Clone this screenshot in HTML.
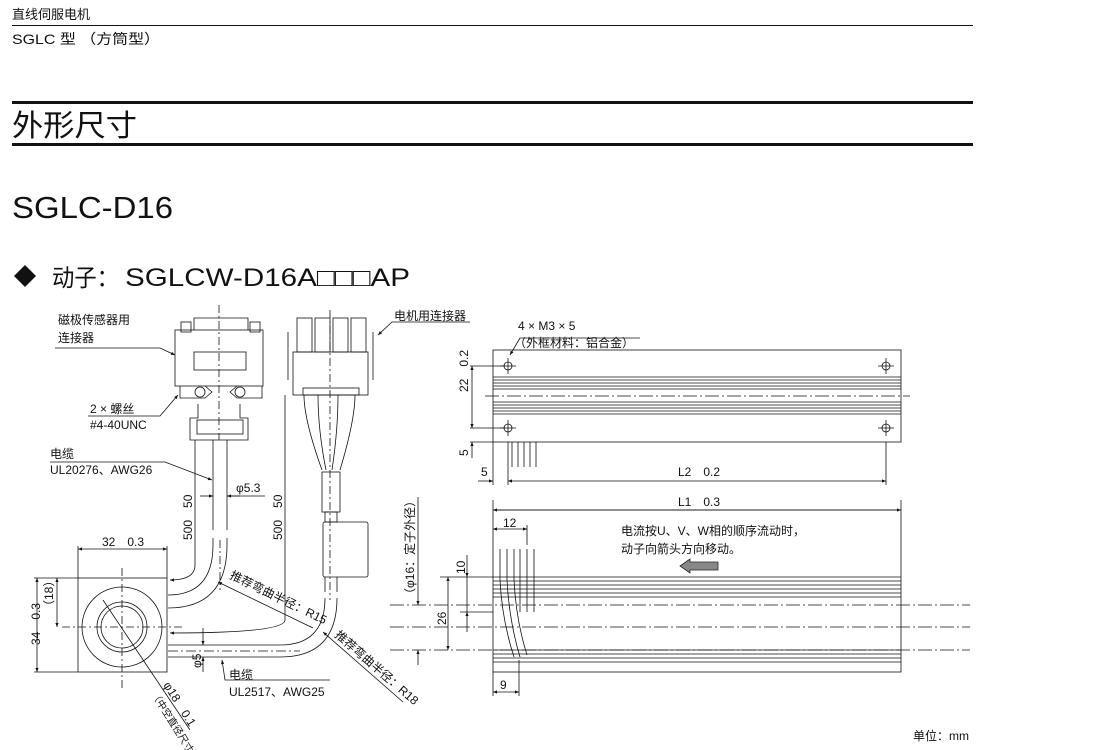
<!DOCTYPE html><html><head><meta charset="utf-8"><style>
body{margin:0;background:#fff;width:1094px;height:750px;overflow:hidden}
svg{display:block}
text{font-family:"Liberation Sans","Noto Sans CJK SC",sans-serif;fill:#111}
.t{font-size:12px}
</style></head><body>
<svg width="1094" height="750" viewBox="0 0 1094 750" xmlns="http://www.w3.org/2000/svg">
<defs><marker id="a" viewBox="0 0 10 10" refX="10" refY="5" markerWidth="7" markerHeight="5" orient="auto-start-reverse"><path d="M0,1 L10,5 L0,9z" fill="#111"/></marker></defs>
<text x="12" y="19" style="font-size:13px">直线伺服电机</text>
<line x1="12" y1="25.5" x2="973" y2="25.5" stroke="#111"/>
<text x="12" y="44" style="font-size:14px" textLength="148" lengthAdjust="spacingAndGlyphs">SGLC 型 （方筒型）</text>
<rect x="12" y="101" width="961" height="3" fill="#111"/>
<text x="12" y="136" style="font-size:30px" textLength="125" lengthAdjust="spacingAndGlyphs">外形尺寸</text>
<rect x="12" y="143" width="961" height="3" fill="#111"/>
<text x="12" y="218" style="font-size:31px" textLength="161" lengthAdjust="spacingAndGlyphs">SGLC-D16</text>
<path d="M14,276 L25,265 36,276 25,287z" fill="#111"/>
<text x="52" y="286" style="font-size:24px" textLength="67" lengthAdjust="spacingAndGlyphs">动子：</text>
<text x="125" y="286" style="font-size:25px" textLength="285" lengthAdjust="spacingAndGlyphs">SGLCW-D16A□□□AP</text>

<g stroke="#111" fill="none" stroke-width="0.8">
<path d="M194,330 V318 H248 V330"/>
<rect x="175" y="330" width="88" height="56"/>
<rect x="194" y="352" width="52" height="18"/>
<rect x="181" y="322" width="10" height="10"/><rect x="250" y="322" width="10" height="10"/>
<path d="M180,386 V398 H205 L212,392 205,386 M262,386 V398 H237 L230,392 237,386"/>
<circle cx="200" cy="392" r="5"/><circle cx="240" cy="392" r="5"/>
<path d="M198,404 V418 H190 V440 H248 V418 H240 V404"/>
<rect x="197" y="420" width="46" height="14"/>
<line x1="219" y1="305" x2="219" y2="440" stroke-dasharray="8,3,2,3"/>
<path d="M213,440 V530 M227,440 V530 M213,538 V545 Q213,595 168,595 M227,538 V545 Q227,608 168,608"/>
<line x1="220" y1="540" x2="220" y2="590" stroke-dasharray="8,3,2,3"/>
<rect x="297" y="318" width="15" height="34"/><rect x="315" y="318" width="15" height="34"/><rect x="333" y="318" width="15" height="34"/><rect x="351" y="318" width="15" height="34"/>
<rect x="293" y="352" width="75" height="43"/><rect x="303" y="388" width="56" height="7"/>
<path d="M288,332 V380 M373,332 V380"/>
<path d="M304,395 Q304,420 322,470 M318,395 Q318,430 326,470 M338,395 Q338,430 332,470 M355,395 Q355,420 340,470"/>
<rect x="322" y="472" width="18" height="40"/>
<rect x="325" y="512" width="12" height="10"/>
<rect x="323" y="522" width="45" height="55" rx="2"/>
<path d="M325,577 V592 M337,577 V592 M325,598 Q325,645 280,645 H168 M337,598 Q337,657 280,657 H168"/>
<line x1="330" y1="310" x2="330" y2="600" stroke-dasharray="8,3,2,3"/>
<line x1="168" y1="651" x2="300" y2="651" stroke-dasharray="10,3,2,3"/>
<rect x="78" y="578" width="89" height="94"/>
<circle cx="122" cy="627" r="40"/><circle cx="122" cy="627" r="25"/><circle cx="122" cy="627" r="21"/>
<line x1="122" y1="568" x2="122" y2="690" stroke-dasharray="8,3,2,3"/>
<line x1="62" y1="627" x2="182" y2="627" stroke-dasharray="8,3,2,3"/>
<line x1="103" y1="600" x2="190" y2="730"/>
<line x1="34" y1="578" x2="78" y2="578"/><line x1="34" y1="672" x2="78" y2="672"/>
<line x1="37" y1="578" x2="37" y2="672" marker-start="url(#a)" marker-end="url(#a)"/>
<line x1="57" y1="578" x2="57" y2="627" marker-start="url(#a)" marker-end="url(#a)"/>
<line x1="78" y1="546" x2="78" y2="578"/><line x1="167" y1="546" x2="167" y2="578"/>
<line x1="78" y1="549" x2="167" y2="549" marker-start="url(#a)" marker-end="url(#a)"/>
<path d="M195,440 V565 Q195,580 170,580" marker-end="url(#a)"/>
<path d="M285,395 V620 Q285,633 170,633" marker-end="url(#a)"/>
<line x1="203" y1="628" x2="203" y2="645" marker-end="url(#a)"/><line x1="203" y1="672" x2="203" y2="657" marker-end="url(#a)"/>
<line x1="200" y1="496" x2="213" y2="496" marker-end="url(#a)"/><line x1="240" y1="496" x2="227" y2="496" marker-end="url(#a)"/><line x1="227" y1="496" x2="265" y2="496"/>
<path d="M55,348 H160 L175,355" marker-end="url(#a)"/>
<path d="M88,416 H160 L178,395" marker-end="url(#a)"/>
<path d="M50,462 H165 L212,480" marker-end="url(#a)"/>
<path d="M470,322 H392 L378,335" marker-end="url(#a)"/>
<line x1="313" y1="628" x2="218" y2="582" marker-end="url(#a)"/>
<line x1="403" y1="702" x2="323" y2="632" marker-end="url(#a)"/>
<path d="M330,680 H225 L222,660" marker-end="url(#a)"/>
<rect x="493" y="350" width="408" height="92"/>
<path d="M493,377 H901 M493,380 H901 M493,383 H901 M493,386 H901 M493,389 H901 M493,402 H901 M493,405 H901 M493,408 H901 M493,411 H901 M493,414 H901"/>
<line x1="485" y1="396" x2="910" y2="396" stroke-dasharray="14,3,2,3"/>
<g><circle cx="508" cy="366" r="4"/><circle cx="886" cy="366" r="4"/><circle cx="508" cy="428" r="4"/><circle cx="886" cy="428" r="4"/>
<path d="M500,366H516M508,358V374M878,366H894M886,358V374M500,428H516M508,420V436M878,428H894M886,420V436"/></g>
<path d="M512,442 V467 M518,442 V467 M524,442 V467 M530,442 V467 M536,442 V467"/>
<line x1="470" y1="366" x2="505" y2="366"/><line x1="470" y1="428" x2="505" y2="428"/><line x1="470" y1="442" x2="493" y2="442"/>
<line x1="472" y1="366" x2="472" y2="428" marker-start="url(#a)" marker-end="url(#a)"/>
<line x1="472" y1="442" x2="472" y2="458" marker-start="url(#a)"/>
<line x1="493" y1="442" x2="493" y2="485"/><line x1="508" y1="442" x2="508" y2="485"/><line x1="886" y1="442" x2="886" y2="485"/>
<line x1="478" y1="481" x2="493" y2="481" marker-end="url(#a)"/>
<line x1="508" y1="481" x2="886" y2="481" marker-start="url(#a)" marker-end="url(#a)"/>
<path d="M640,338 H520 L510,355" marker-end="url(#a)"/>
<rect x="493" y="510" width="408" height="162"/>
<path d="M493,577H901M493,581H901M493,585H901M493,589H901M493,593H901M493,597H901M493,650H901M493,654H901M493,658H901M493,662H901"/>
<line x1="390" y1="605" x2="970" y2="605" stroke-dasharray="14,3,2,3"/>
<line x1="390" y1="627" x2="970" y2="627" stroke-dasharray="14,3,2,3"/>
<line x1="390" y1="650" x2="970" y2="650" stroke-dasharray="14,3,2,3"/>
<path d="M500,549 V580 Q502,620 514,657 M507,549 V580 Q509,620 520,657 M514,549 V580 Q516,620 527,655"/>
<path d="M520,549 V612 M527,549 V612 M534,549 V612"/>
<line x1="493" y1="500" x2="493" y2="510"/><line x1="901" y1="500" x2="901" y2="510"/>
<line x1="493" y1="510" x2="901" y2="510" marker-start="url(#a)" marker-end="url(#a)"/>
<line x1="527" y1="525" x2="527" y2="545"/>
<line x1="493" y1="529" x2="527" y2="529" marker-start="url(#a)" marker-end="url(#a)"/>
<line x1="440" y1="577" x2="493" y2="577"/><line x1="460" y1="612" x2="493" y2="612"/>
<line x1="448" y1="577" x2="448" y2="650" marker-start="url(#a)" marker-end="url(#a)"/>
<line x1="467" y1="555" x2="467" y2="577" marker-end="url(#a)"/><line x1="467" y1="632" x2="467" y2="612" marker-end="url(#a)"/><line x1="467" y1="577" x2="467" y2="612"/>
<line x1="418" y1="497" x2="418" y2="605" marker-end="url(#a)"/><line x1="418" y1="665" x2="418" y2="650" marker-end="url(#a)"/>
<line x1="493" y1="672" x2="493" y2="696"/><line x1="519" y1="660" x2="519" y2="696"/>
<line x1="493" y1="692" x2="519" y2="692" marker-start="url(#a)" marker-end="url(#a)"/>
</g>
<path d="M680,566 L690,559 V562 H718 V570 H690 V573z" fill="#888" stroke="#222" stroke-width="0.8"/>

<g class="t">
<text x="58" y="324">磁极传感器用</text><text x="58" y="342">连接器</text>
<text x="90" y="413">2 × 螺丝</text><text x="90" y="429">#4-40UNC</text>
<text x="50" y="458">电缆</text><text x="50" y="474">UL20276、AWG26</text>
<text x="236" y="492">φ5.3</text>
<text x="394" y="320">电机用连接器</text>
<text x="102" y="546">32　0.3</text>
<text x="229" y="679">电缆</text><text x="229" y="696">UL2517、AWG25</text>
<text x="518" y="330">4 × M3 × 5</text><text x="514" y="347">（外框材料：铝合金）</text>
<text x="481" y="476">5</text><text x="678" y="476">L2　0.2</text>
<text x="678" y="506">L1　0.3</text>
<text x="503" y="527">12</text>
<text x="621" y="535">电流按U、V、W相的顺序流动时，</text>
<text x="621" y="553">动子向箭头方向移动。</text>
<text x="500" y="689">9</text>
<text x="913" y="740">单位：mm</text>
<text transform="translate(40,645) rotate(-90)">34　0.3</text>
<text transform="translate(53,612) rotate(-90)">（18）</text>
<text transform="translate(192,540) rotate(-90)">500　50</text>
<text transform="translate(282,540) rotate(-90)">500　50</text>
<text transform="translate(201,668) rotate(-90)">φ5</text>
<text transform="translate(414,600) rotate(-90)">（φ16：定子外径）</text>
<text transform="translate(465,574) rotate(-90)">10</text>
<text transform="translate(446,625) rotate(-90)">26</text>
<text transform="translate(468,392) rotate(-90)">22　0.2</text>
<text transform="translate(468,456) rotate(-90)">5</text>
<text transform="translate(229,578) rotate(26)">推荐弯曲半径：R15</text>
<text transform="translate(334,636) rotate(41)">推荐弯曲半径：R18</text>
<text transform="translate(163,685) rotate(58)">φ18　0.1</text>
<text transform="translate(151,694) rotate(58)" style="font-size:10px">（中空直径尺寸）</text>
</g>
</svg>
</body></html>
